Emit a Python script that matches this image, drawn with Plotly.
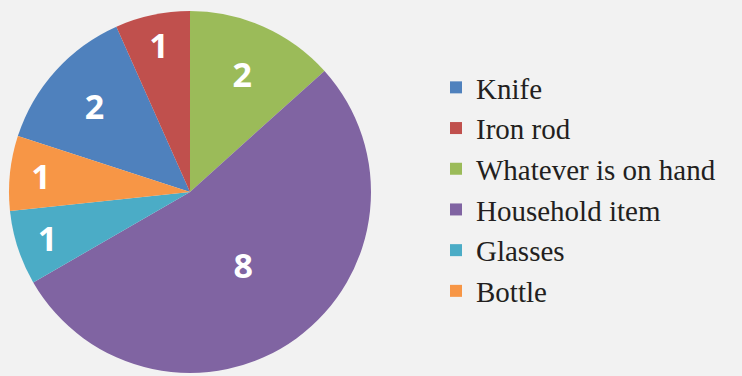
import plotly.graph_objects as go

labels = ["Knife", "Iron rod", "Whatever is on hand", "Household item", "Glasses", "Bottle"]
values = [2, 1, 2, 8, 1, 1]
colors = ["#4F81BD", "#C0504D", "#9BBB59", "#8064A2", "#4BACC6", "#F79646"]

W, H = 742, 376
BG = "#F2F2F2"
SERIF = "Liberation Serif"
fig = go.Figure(go.Pie(
    labels=labels,
    values=values,
    sort=False,
    direction="clockwise",
    rotation=288,
    marker=dict(colors=colors, line=dict(width=0)),
    textinfo="value",
    textposition="inside",
    insidetextorientation="horizontal",
    textfont=dict(family="Open Sans", size=34, color="white", weight="bold"),
    domain=dict(x=[9 / W, 371 / W], y=[3 / H, 365 / H]),
    hoverinfo="label+value",
))
# background-coloured glyphs in the serif face so the face is painted/resolved
fig.add_annotation(x=1, y=0, xref="paper", yref="paper", xanchor="right", yanchor="bottom",
                   text="Whatever", showarrow=False,
                   font=dict(family=SERIF, size=12, color=BG))
fig.update_layout(
    width=W, height=H,
    margin=dict(l=0, r=0, t=0, b=0),
    paper_bgcolor=BG,
    plot_bgcolor=BG,
    showlegend=True,
    legend=dict(
        x=436 / W, y=1 - 62 / H, xanchor="left", yanchor="top",
        font=dict(family=SERIF, size=29, color="#231F20"),
        bgcolor="rgba(0,0,0,0)",
        traceorder="normal",
    ),
)
fig.write_html("out.html")
